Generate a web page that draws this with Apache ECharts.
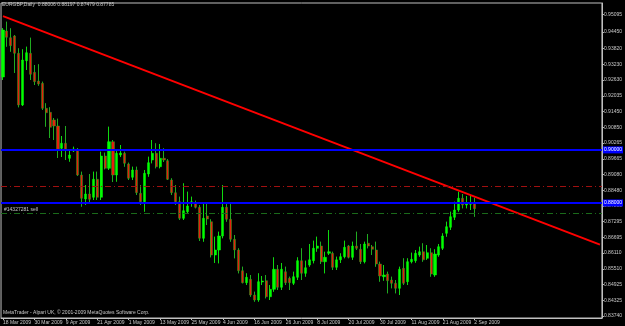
<!DOCTYPE html>
<html><head><meta charset="utf-8">
<script src="https://cdn.jsdelivr.net/npm/echarts@6/dist/echarts.min.js"></script>
<style>html,body{margin:0;padding:0;background:#000;}#c{width:625px;height:326px;}</style>
</head><body><div id="c"></div><script>
const headerText = 'EURGBP,Daily  0.88006 0.88197 0.87479 0.87785';
const footerText = 'MetaTrader - Alpari UK, \u00a9 2001-2009 MetaQuotes Software Corp.';
const orderText = '#14327281 sell';
const tickLabels = ['18 Mar 2009','30 Mar 2009','9 Apr 2009','21 Apr 2009','1 May 2009','13 May 2009','25 May 2009','4 Jun 2009','16 Jun 2009','26 Jun 2009','8 Jul 2009','20 Jul 2009','30 Jul 2009','11 Aug 2009','21 Aug 2009','2 Sep 2009'];
const priceTicks = [0.95095,0.94450,0.93820,0.93230,0.92630,0.92035,0.91450,0.90850,0.90265,0.89665,0.89080,0.88480,0.87890,0.87295,0.86695,0.86110,0.85510,0.84925,0.84325,0.83740];
const opens = [0.92747,0.94481,0.94228,0.94292,0.93640,0.91692,0.93361,0.93640,0.92924,0.92596,
0.92509,0.91567,0.91416,0.91126,0.90900,0.90060,0.90248,0.89683,0.89958,0.90022,
0.89053,0.88149,0.88337,0.88213,0.88891,0.88213,0.89769,0.89306,0.90308,0.89053,
0.89807,0.89871,0.89468,0.88967,0.89242,0.88364,0.88047,0.89091,0.89619,0.89871,
0.89366,0.89683,0.89592,0.88865,0.88386,0.88047,0.87421,0.87670,0.87987,0.87987,
0.87836,0.86668,0.87508,0.87293,0.86038,0.86227,0.86754,0.87836,0.87384,0.86630,
0.86227,0.85446,0.84994,0.85122,0.84530,0.84342,0.85020,0.85070,0.84466,0.84745,
0.85499,0.84821,0.85408,0.85160,0.84971,0.85198,0.85823,0.85348,0.85661,0.85823,
0.86291,0.86377,0.85785,0.86102,0.86102,0.85574,0.85855,0.85974,0.86377,0.85951,
0.86377,0.86253,0.85785,0.86479,0.86351,0.86227,0.85699,0.85220,0.85322,0.85096,
0.84971,0.84783,0.85537,0.85032,0.85785,0.85823,0.86038,0.86162,0.85914,0.86125,
0.85284,0.86038,0.86291,0.86856,0.87082,0.87459,0.87734,0.88175,0.87923,0.87949,
0.88006];
const closes = [0.94518,0.94243,0.93927,0.93640,0.91692,0.93388,0.93663,0.92849,0.92570,0.92483,
0.91567,0.91401,0.90851,0.90900,0.90022,0.90248,0.90022,0.89807,0.90033,0.89053,
0.88175,0.88337,0.88137,0.88891,0.88213,0.89769,0.89306,0.90308,0.89053,0.89871,
0.89883,0.89494,0.88929,0.89242,0.88386,0.88047,0.89117,0.89517,0.89871,0.89366,
0.89683,0.89619,0.88891,0.88386,0.88047,0.87421,0.87708,0.87885,0.88047,0.87836,
0.86668,0.87421,0.87395,0.86038,0.86227,0.86754,0.87836,0.87384,0.86630,0.86227,
0.85446,0.84994,0.85198,0.84530,0.84342,0.85032,0.85058,0.84466,0.84745,0.85499,
0.84821,0.85499,0.84994,0.84994,0.85220,0.85823,0.85348,0.85559,0.85855,0.86291,
0.86377,0.85785,0.85951,0.86162,0.85574,0.85855,0.85974,0.86328,0.85951,0.86377,
0.86291,0.85785,0.86453,0.86377,0.86253,0.85699,0.85247,0.85284,0.85070,0.84971,
0.84783,0.85499,0.84971,0.85785,0.85876,0.86102,0.86162,0.85855,0.86125,0.85322,
0.86076,0.86351,0.86754,0.87105,0.87482,0.87734,0.88175,0.87923,0.87987,0.87987,
0.87785];
const lows = [0.92634,0.93889,0.93700,0.92898,0.91605,0.91654,0.93011,0.92634,0.92445,0.92419,
0.91503,0.90874,0.90448,0.90372,0.89694,0.89732,0.89619,0.89555,0.89920,0.89016,
0.87859,0.87923,0.87987,0.88111,0.88111,0.88111,0.89268,0.89242,0.88789,0.88801,
0.89732,0.89366,0.88865,0.88865,0.88299,0.87923,0.87670,0.88989,0.89494,0.89306,
0.89306,0.89543,0.88865,0.88299,0.87923,0.87357,0.87357,0.87610,0.87859,0.87798,
0.86566,0.86539,0.87169,0.85951,0.85737,0.85725,0.86668,0.87293,0.86539,0.85914,
0.85348,0.84971,0.84907,0.84466,0.84278,0.84278,0.84907,0.84406,0.84342,0.84655,
0.84719,0.84719,0.84907,0.84719,0.84907,0.85096,0.85096,0.85220,0.85597,0.85725,
0.86162,0.85699,0.85348,0.86038,0.85473,0.85473,0.85737,0.85914,0.85914,0.85855,
0.86227,0.85699,0.85725,0.86291,0.86038,0.85597,0.85032,0.85070,0.84594,0.84783,
0.84594,0.84530,0.84907,0.84907,0.85725,0.85748,0.85974,0.85785,0.85855,0.85220,
0.85220,0.85974,0.86227,0.86728,0.86980,0.87357,0.87670,0.87798,0.87798,0.87734,
0.87479];
const highs = [0.94594,0.94831,0.94582,0.94330,0.93829,0.93791,0.93889,0.94228,0.93199,0.93226,
0.92570,0.91756,0.91605,0.91202,0.91175,0.90523,0.90900,0.89996,0.90120,0.90071,
0.89178,0.88676,0.89091,0.89178,0.89178,0.89931,0.89894,0.90874,0.90372,0.89996,
0.90184,0.89931,0.89517,0.89366,0.89366,0.88676,0.89242,0.89743,0.90372,0.90248,
0.90222,0.90060,0.89656,0.88929,0.88676,0.88236,0.88740,0.88424,0.88236,0.88085,
0.87923,0.87987,0.87987,0.87384,0.86728,0.86916,0.88676,0.87987,0.87987,0.86792,
0.86291,0.85597,0.85348,0.85284,0.84655,0.85348,0.85247,0.85284,0.84907,0.85951,
0.85661,0.85737,0.85597,0.85220,0.85408,0.85951,0.86291,0.85823,0.86453,0.86577,
0.86728,0.86539,0.86162,0.86980,0.86162,0.85974,0.86102,0.86577,0.86415,0.86539,
0.86916,0.86453,0.86539,0.86830,0.86415,0.86539,0.85785,0.85661,0.85408,0.85220,
0.85096,0.85597,0.85914,0.85914,0.86125,0.86227,0.86351,0.86479,0.86415,0.86291,
0.86253,0.86453,0.86856,0.87293,0.87670,0.88047,0.88424,0.88337,0.88262,0.88299,
0.88197];
const blueLevels = [0.90000, 0.88000];
const stopLevel = 0.88620;
const orderLevel = 0.87620;
const bidPrice = 0.87785;
const trendPoints = [0.95042, 0.86430];
const futureSlots = 32;
const yMin = 0.83664, yMax = 0.95536;

const nBars = opens.length;
const nSlots = nBars + futureSlots;
const categories = [];
for (let i = 0; i < nSlots; i++) {
  categories.push(i % 8 === 0 && tickLabels[i / 8] ? tickLabels[i / 8] : '#' + i);
}
const candleData = opens.map((o, i) => [o, closes[i], lows[i], highs[i]]);
const FONT = 'Liberation Sans';
const TXT = '#c8c8c8';
const WICK = '#1fb81f';

const chart = echarts.init(document.getElementById('c'), null, {renderer: 'canvas'});
chart.setOption({
  backgroundColor: '#000000',
  animation: false,
  textStyle: {fontFamily: FONT},
  title: [
    {text: headerText, left: 2, top: 2, padding: 0, textStyle: {color: TXT, fontSize: 5, fontWeight: 'normal', fontFamily: FONT}},
    {text: footerText, left: 3, top: 310, padding: 0, textStyle: {color: TXT, fontSize: 5, fontWeight: 'normal', fontFamily: FONT}}
  ],
  grid: {left: 1, right: 18, top: 3, bottom: 8, show: true, borderColor: '#c0c0c0', borderWidth: 1, backgroundColor: 'transparent'},
  xAxis: {
    type: 'category', data: categories, boundaryGap: true,
    axisLine: {show: true, lineStyle: {color: '#c0c0c0'}},
    axisTick: {show: true, alignWithLabel: true, length: 2, lineStyle: {color: '#c0c0c0'},
      interval: (idx) => idx % 8 === 0 && idx < nBars},
    axisLabel: {show: true, interval: 7, color: TXT, fontSize: 5, fontFamily: FONT, margin: 2, align: 'left',
      formatter: (v) => v.charAt(0) === '#' ? '' : v},
    splitLine: {show: false}
  },
  yAxis: {
    type: 'value', position: 'right', min: yMin, max: yMax,
    axisLine: {show: true, lineStyle: {color: '#c0c0c0'}},
    axisTick: {show: true, length: 2, lineStyle: {color: '#c0c0c0'}, customValues: priceTicks},
    axisLabel: {show: true, color: TXT, fontSize: 5, fontFamily: FONT, margin: 2, customValues: priceTicks,
      formatter: (v) => v.toFixed(5)},
    splitLine: {show: false}
  },
  series: [
    {
      name: 'wicks', type: 'candlestick', data: candleData, barWidth: 0.5, z: 2, silent: true,
      itemStyle: {color: WICK, color0: WICK, borderColor: WICK, borderColor0: WICK, borderWidth: 1}
    },
    {
      name: 'bodies', type: 'candlestick', data: candleData, barWidth: 2.6, z: 3, barGap: '-100%',
      itemStyle: {color: '#00ff00', color0: '#e8200c', borderColor: '#00ff00', borderColor0: '#22a022', borderWidth: 0.5},
      markLine: {
        silent: true, symbol: ['none', 'none'], animation: false, precision: 5,
        data: [
          {yAxis: blueLevels[0], lineStyle: {color: '#0000ff', width: 2, type: 'solid'},
            label: {show: true, position: 'end', distance: 1, formatter: blueLevels[0].toFixed(5), color: '#ffffff', backgroundColor: '#0000ff', fontSize: 5, fontFamily: FONT, padding: [1, 1]}},
          {yAxis: blueLevels[1], lineStyle: {color: '#0000ff', width: 2, type: 'solid'},
            label: {show: true, position: 'end', distance: 1, formatter: blueLevels[1].toFixed(5), color: '#ffffff', backgroundColor: '#0000ff', fontSize: 5, fontFamily: FONT, padding: [1, 1]}},
          {yAxis: stopLevel, lineStyle: {color: '#a01010', width: 1, type: [6, 3, 1, 3]}, label: {show: false}},
          {yAxis: orderLevel, lineStyle: {color: '#1a6a1a', width: 1, type: [6, 3, 1, 3]},
            label: {show: true, position: 'insideStartTop', distance: [3, 1], formatter: orderText, color: TXT, fontSize: 5, fontFamily: FONT}},
          {yAxis: bidPrice, lineStyle: {opacity: 0},
            label: {show: true, position: 'end', distance: 1, formatter: bidPrice.toFixed(5), color: '#000000', backgroundColor: '#ffffff', fontSize: 5, fontFamily: FONT, padding: [1, 1]}}
        ]
      }
    },
    {
      type: 'line', data: [[0, trendPoints[0]], [nSlots - 1, trendPoints[1]]], symbol: 'none', z: 4,
      lineStyle: {color: '#ff0000', width: 2}, silent: true
    }
  ]
});
</script></body></html>
